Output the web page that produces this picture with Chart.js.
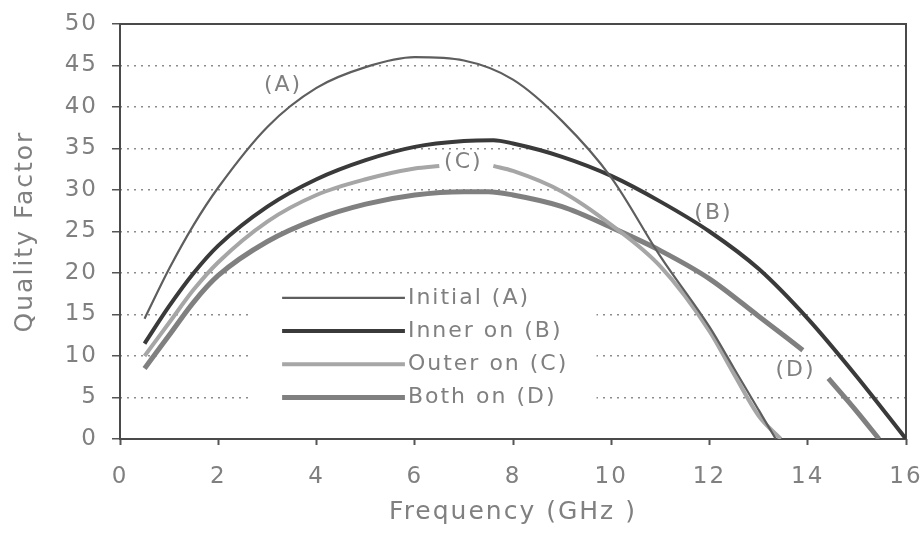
<!DOCTYPE html>
<html lang="en">
<head>
    <meta charset="UTF-8">
    <title>Quality Factor</title>
    <script src="https://cdn.jsdelivr.net/npm/chart.js"></script>
    <style>
        body {
            margin: 0;
            background: #ffffff;
        }
        .wrap {
            position: relative;
            width: 923px;
            height: 535px;
        }
    </style>
</head>
<body>
    <div class="wrap">
        <canvas id="qChart"></canvas>
    </div>

    <script>
        // Curves (frequency in GHz, quality factor)
        const seriesNames = ['Initial (A)', 'Inner on (B)', 'Outer on (C)', 'Both on (D)'];

        const freqA = [0.5, 1, 1.5, 2, 3, 4, 5, 6, 7, 8, 9, 10, 11, 12, 12.5, 13, 13.35];
        const qA    = [14.5, 20.5, 25.8, 30.3, 37.6, 42.3, 44.8, 46, 45.6, 43.3, 38.3, 31.5, 22, 13.5, 8.5, 3.5, 0];

        const freqB = [0.5, 1, 1.5, 2, 3, 4, 5, 6, 7, 7.6, 8, 9, 10, 11, 12, 13, 14, 15, 16];
        const qB    = [11.5, 16, 20, 23.3, 28, 31.3, 33.6, 35.2, 35.9, 36, 35.6, 34, 31.7, 28.6, 25, 20.5, 14.5, 7.5, 0];

        // null = break in the line where the "(C)" label sits
        const freqC = [0.5, 1, 1.5, 2, 3, 4, 5, 6, 6.5, 7.05, 7.6, 8, 9, 10, 11, 12, 12.5, 13, 13.45];
        const qC    = [10, 14, 18, 21.3, 26.2, 29.4, 31.3, 32.6, 32.9, null, 32.9, 32.3, 29.8, 25.8, 20.8, 13, 7.8, 2.8, 0];

        // null = break near the "(D)" label
        const freqD = [0.5, 1, 1.5, 2, 3, 4, 5, 6, 7, 7.5, 8, 9, 10, 11, 12, 13, 13.9, 14.15, 14.42, 15, 15.45];
        const qD    = [8.5, 12.5, 16.5, 19.7, 23.8, 26.5, 28.3, 29.4, 29.8, 29.8, 29.4, 28, 25.5, 22.7, 19.3, 14.8, 10.7, null, 7.3, 3.3, 0];

        const curveLabels = ['(A)', '(B)', '(C)', '(D)'];
        const curveLabelFreq = [3.32, 12.08, 6.99, 13.75];
        const curveLabelQ = [42.6, 27.2, 33.3, 8.3];

        const xTicksMax = 16;
        const yTicksMax = 50;

        const textColor = '#808080';
        const fontFamily = "'DejaVu Sans', sans-serif";

        function toPoints(xs, ys) {
            return xs.map((x, i) => ({ x: x, y: ys[i] }));
        }

        const lineStyles = [
            { color: '#5e5e5e', width: 2.2 },
            { color: '#3a3a3a', width: 4 },
            { color: '#a6a6a6', width: 4 },
            { color: '#808080', width: 5 }
        ];

        const allSeries = [[freqA, qA], [freqB, qB], [freqC, qC], [freqD, qD]];

        const datasets = allSeries.map((s, i) => ({
            label: seriesNames[i],
            data: toPoints(s[0], s[1]),
            borderColor: lineStyles[i].color,
            borderWidth: lineStyles[i].width,
            pointRadius: 0,
            cubicInterpolationMode: 'monotone',
            spanGaps: false,
            fill: false
        }));

        // legend box sits inside the plot, white behind it hides the grid
        const legendBoxX = [2.62, 9.7];
        const legendBoxQ = [19.1, 3.1];
        const legendLineX = [3.3, 5.8];
        const legendFirstQ = 17;
        const legendRowQ = 4;

        const overlay = {
            id: 'overlay',
            beforeDraw(chart) {
                chart.ctx.letterSpacing = '2px';
            },
            beforeDatasetsDraw(chart) {
                const { ctx, chartArea: a, scales: { x, y } } = chart;
                ctx.save();
                ctx.fillStyle = '#ffffff';
                const l = x.getPixelForValue(legendBoxX[0]);
                const r = x.getPixelForValue(legendBoxX[1]);
                const t = y.getPixelForValue(legendBoxQ[0]);
                const b = y.getPixelForValue(legendBoxQ[1]);
                ctx.fillRect(l, t, r - l, b - t);
                // plot frame
                ctx.strokeStyle = '#4a4a4a';
                ctx.lineWidth = 2;
                ctx.strokeRect(a.left, a.top, a.right - a.left, a.bottom - a.top);
                ctx.restore();
            },
            afterDatasetsDraw(chart) {
                const { ctx, scales: { x, y } } = chart;
                ctx.save();
                ctx.letterSpacing = '2px';
                ctx.font = "22px " + fontFamily;
                ctx.fillStyle = textColor;
                ctx.textBaseline = 'middle';
                const x0 = x.getPixelForValue(legendLineX[0]);
                const x1 = x.getPixelForValue(legendLineX[1]);
                chart.data.datasets.forEach((ds, i) => {
                    const py = y.getPixelForValue(legendFirstQ - i * legendRowQ);
                    ctx.strokeStyle = ds.borderColor;
                    ctx.lineWidth = ds.borderWidth;
                    ctx.beginPath();
                    ctx.moveTo(x0, py);
                    ctx.lineTo(x1, py);
                    ctx.stroke();
                    ctx.textAlign = 'left';
                    ctx.fillText(ds.label, x1 + 3, py);
                });
                ctx.textAlign = 'center';
                curveLabels.forEach((txt, i) => {
                    ctx.fillText(txt, x.getPixelForValue(curveLabelFreq[i]), y.getPixelForValue(curveLabelQ[i]));
                });
                ctx.restore();
            }
        };

        new Chart(document.getElementById('qChart').getContext('2d'), {
            type: 'line',
            data: { datasets: datasets },
            plugins: [overlay],
            options: {
                responsive: true,
                maintainAspectRatio: false,
                animation: false,
                layout: { padding: { top: 24, right: 17, left: 0, bottom: 0 } },
                plugins: {
                    legend: { display: false },
                    tooltip: { enabled: false }
                },
                scales: {
                    x: {
                        type: 'linear',
                        min: 0,
                        max: xTicksMax,
                        ticks: {
                            stepSize: 2,
                            padding: 18,
                            color: textColor,
                            font: { family: fontFamily, size: 23 }
                        },
                        grid: {
                            drawOnChartArea: false,
                            tickLength: 6,
                            tickColor: '#555555',
                            tickWidth: 2
                        },
                        border: { display: false },
                        title: {
                            display: true,
                            text: 'Frequency (GHz )',
                            color: textColor,
                            font: { family: fontFamily, size: 25 },
                            padding: { top: 0, bottom: 8 }
                        },
                        afterFit(scale) {
                            scale.height = 96;
                            scale.paddingLeft = 0;
                            scale.paddingRight = 0;
                        }
                    },
                    y: {
                        min: 0,
                        max: yTicksMax,
                        ticks: {
                            stepSize: 5,
                            padding: 14,
                            color: textColor,
                            font: { family: fontFamily, size: 23 }
                        },
                        grid: {
                            color: (c) => (c.tick.value === 0 || c.tick.value === yTicksMax) ? 'transparent' : '#8c8c8c',
                            lineWidth: 1.5,
                            tickLength: 8,
                            tickColor: '#555555',
                            tickWidth: 1.5
                        },
                        border: { display: false, dash: [2, 5] },
                        title: {
                            display: true,
                            text: 'Quality Factor',
                            color: textColor,
                            font: { family: fontFamily, size: 25 },
                            padding: { top: 10, bottom: 0 }
                        },
                        afterFit(scale) {
                            scale.width = 120;
                            scale.paddingTop = 0;
                            scale.paddingBottom = 0;
                        }
                    }
                }
            }
        });
    </script>
</body>
</html>
